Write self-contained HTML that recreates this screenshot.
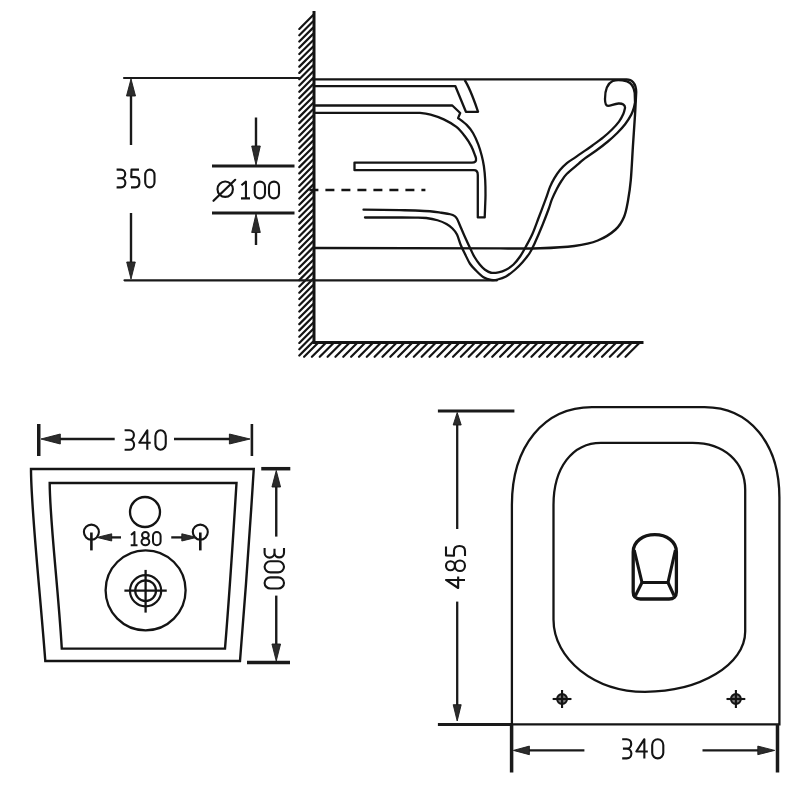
<!DOCTYPE html>
<html><head><meta charset="utf-8"><title>Wall hung toilet dimensions</title>
<style>html,body{margin:0;padding:0;background:#fff;width:800px;height:800px;overflow:hidden;font-family:"Liberation Sans",sans-serif;}svg{display:block;}</style>
</head><body>
<svg width="800" height="800" viewBox="0 0 800 800">
<path d="M299.3,355.5 L313.2,341.6 M299.3,349.22 L313.2,335.32 M299.3,342.94 L313.2,329.04 M299.3,336.66 L313.2,322.76 M299.3,330.38 L313.2,316.48 M299.3,324.1 L313.2,310.2 M299.3,317.82 L313.2,303.92 M299.3,311.54 L313.2,297.64 M299.3,305.26 L313.2,291.36 M299.3,298.98 L313.2,285.08 M299.3,292.7 L313.2,278.8 M299.3,286.42 L313.2,272.52 M299.3,280.14 L313.2,266.24 M299.3,273.86 L313.2,259.96 M299.3,267.58 L313.2,253.68 M299.3,261.3 L313.2,247.4 M299.3,255.02 L313.2,241.12 M299.3,248.74 L313.2,234.84 M299.3,242.46 L313.2,228.56 M299.3,236.18 L313.2,222.28 M299.3,229.9 L313.2,216 M299.3,223.62 L313.2,209.72 M299.3,217.34 L313.2,203.44 M299.3,211.06 L313.2,197.16 M299.3,204.78 L313.2,190.88 M299.3,198.5 L313.2,184.6 M299.3,192.22 L313.2,178.32 M299.3,185.94 L313.2,172.04 M299.3,179.66 L313.2,165.76 M299.3,173.38 L313.2,159.48 M299.3,167.1 L313.2,153.2 M299.3,160.82 L313.2,146.92 M299.3,154.54 L313.2,140.64 M299.3,148.26 L313.2,134.36 M299.3,141.98 L313.2,128.08 M299.3,135.7 L313.2,121.8 M299.3,129.42 L313.2,115.52 M299.3,123.14 L313.2,109.24 M299.3,116.86 L313.2,102.96 M299.3,110.58 L313.2,96.68 M299.3,104.3 L313.2,90.4 M299.3,98.02 L313.2,84.12 M299.3,91.74 L313.2,77.84 M299.3,85.46 L313.2,71.56 M299.3,79.18 L313.2,65.28 M299.3,72.9 L313.2,59 M299.3,66.62 L313.2,52.72 M299.3,60.34 L313.2,46.44 M299.3,54.06 L313.2,40.16 M299.3,47.78 L313.2,33.88 M299.3,41.5 L313.2,27.6 M299.3,35.22 L313.2,21.32 M299.3,28.94 L313.2,15.04" stroke="#141414" stroke-width="2.2" stroke-linecap="round" fill="none"/>
<path d="M304.1,356.8 L317.4,343.5 M311.94,356.8 L325.24,343.5 M319.78,356.8 L333.08,343.5 M327.62,356.8 L340.92,343.5 M335.46,356.8 L348.76,343.5 M343.3,356.8 L356.6,343.5 M351.14,356.8 L364.44,343.5 M358.98,356.8 L372.28,343.5 M366.82,356.8 L380.12,343.5 M374.66,356.8 L387.96,343.5 M382.5,356.8 L395.8,343.5 M390.34,356.8 L403.64,343.5 M398.18,356.8 L411.48,343.5 M406.02,356.8 L419.32,343.5 M413.86,356.8 L427.16,343.5 M421.7,356.8 L435,343.5 M429.54,356.8 L442.84,343.5 M437.38,356.8 L450.68,343.5 M445.22,356.8 L458.52,343.5 M453.06,356.8 L466.36,343.5 M460.9,356.8 L474.2,343.5 M468.74,356.8 L482.04,343.5 M476.58,356.8 L489.88,343.5 M484.42,356.8 L497.72,343.5 M492.26,356.8 L505.56,343.5 M500.1,356.8 L513.4,343.5 M507.94,356.8 L521.24,343.5 M515.78,356.8 L529.08,343.5 M523.62,356.8 L536.92,343.5 M531.46,356.8 L544.76,343.5 M539.3,356.8 L552.6,343.5 M547.14,356.8 L560.44,343.5 M554.98,356.8 L568.28,343.5 M562.82,356.8 L576.12,343.5 M570.66,356.8 L583.96,343.5 M578.5,356.8 L591.8,343.5 M586.34,356.8 L599.64,343.5 M594.18,356.8 L607.48,343.5 M602.02,356.8 L615.32,343.5 M609.86,356.8 L623.16,343.5 M617.7,356.8 L631,343.5 M625.54,356.8 L638.84,343.5" stroke="#141414" stroke-width="2.2" stroke-linecap="round" fill="none"/>
<path d="M314,11 L314,342.6 L643.5,342.6" fill="none" stroke="#141414" stroke-width="3" stroke-linejoin="miter"/>
<line x1="124" y1="78" x2="299" y2="78" stroke="#1a1a1a" stroke-width="2.2" stroke-linecap="round"/>
<line x1="124.5" y1="280.3" x2="497" y2="280.3" stroke="#1a1a1a" stroke-width="2.2" stroke-linecap="round"/>
<line x1="131" y1="92" x2="131" y2="145" stroke="#1a1a1a" stroke-width="2.4" />
<path d="M131,79 L126.5,96 L135.5,96 Z" fill="#2c2c2c" stroke="#1a1a1a" stroke-width="0.9" stroke-linejoin="round"/>
<line x1="131" y1="213" x2="131" y2="266" stroke="#1a1a1a" stroke-width="2.4" />
<path d="M131,279 L135.3,262 L126.7,262 Z" fill="#2c2c2c" stroke="#1a1a1a" stroke-width="0.9" stroke-linejoin="round"/>
<path d="M116.6,169.6 L120.9,169.6 C123.48,169.6 125.2,171.56 125.2,173.96 C125.2,176.36 123.48,178.32 120.9,178.32 L117.29,178.32 M120.9,178.32 C123.65,178.32 125.37,180.46 125.37,182.86 C125.37,185.26 123.65,187.4 120.9,187.4 L116.6,187.4" fill="none" stroke="#141414" stroke-width="2.1" stroke-linecap="butt" stroke-linejoin="round"/>
<path d="M138.98,169.6 L131.5,169.6 L131.25,177.08 L135.2,177.08 C137.89,177.08 139.4,179.21 139.4,182.24 C139.4,185.44 137.89,187.4 135.2,187.4 L131,187.4" fill="none" stroke="#141414" stroke-width="2.1" stroke-linecap="butt" stroke-linejoin="round"/>
<path d="M145.2,174.94 C145.2,171.99 147.28,169.6 149.85,169.6 C152.42,169.6 154.5,171.99 154.5,174.94 L154.5,182.06 C154.5,185.01 152.42,187.4 149.85,187.4 C147.28,187.4 145.2,185.01 145.2,182.06 Z" fill="none" stroke="#141414" stroke-width="2.1" stroke-linecap="butt" stroke-linejoin="round"/>
<line x1="212" y1="166" x2="294.5" y2="166" stroke="#1a1a1a" stroke-width="3" />
<line x1="212" y1="213" x2="294.5" y2="213" stroke="#1a1a1a" stroke-width="3" />
<line x1="256" y1="117.5" x2="256" y2="150" stroke="#1a1a1a" stroke-width="2.4" />
<path d="M256,165 L260.3,146 L251.7,146 Z" fill="#2c2c2c" stroke="#1a1a1a" stroke-width="0.9" stroke-linejoin="round"/>
<line x1="256" y1="228" x2="256" y2="245" stroke="#1a1a1a" stroke-width="2.4" />
<path d="M256,214 L251.7,232.5 L260.3,232.5 Z" fill="#2c2c2c" stroke="#1a1a1a" stroke-width="0.9" stroke-linejoin="round"/>
<circle cx="225.2" cy="189.2" r="7.7" fill="none" stroke="#141414" stroke-width="2.1"/>
<line x1="213.5" y1="200.8" x2="235.2" y2="179.8" stroke="#141414" stroke-width="2.2" stroke-linecap="round"/>
<path d="M241.45,185.3 L245.95,181.6 L245.95,198.4 M241,198.4 L250,198.4" fill="none" stroke="#141414" stroke-width="2.1" stroke-linecap="butt" stroke-linejoin="round"/>
<path d="M254.75,186.64 C254.75,183.86 257.04,181.6 259.88,181.6 C262.71,181.6 265,183.86 265,186.64 L265,193.36 C265,196.14 262.71,198.4 259.88,198.4 C257.04,198.4 254.75,196.14 254.75,193.36 Z" fill="none" stroke="#141414" stroke-width="2.1" stroke-linecap="butt" stroke-linejoin="round"/>
<path d="M269,186.64 C269,183.86 271.24,181.6 274,181.6 C276.76,181.6 279,183.86 279,186.64 L279,193.36 C279,196.14 276.76,198.4 274,198.4 C271.24,198.4 269,196.14 269,193.36 Z" fill="none" stroke="#141414" stroke-width="2.1" stroke-linecap="butt" stroke-linejoin="round"/>
<path d="M312,79.4 L626.5,79.4 C631.5,79.4 636,83 636.2,92 C636,95.83 635.53,106.17 635,115 C634.47,123.83 633.7,134.17 633,145 C632.3,155.83 631.63,170.73 630.8,180 C629.97,189.27 629.13,194.43 628,200.6 C626.87,206.77 626.07,212.18 624,217 C621.93,221.82 619.97,225.58 615.6,229.5 C611.23,233.42 604.67,237.75 597.8,240.5 C590.93,243.25 584.03,244.7 574.4,246 C564.77,247.3 552.4,247.9 540,248.3 C527.6,248.7 506.67,248.38 500,248.4 L314,248" fill="none" stroke="#141414" stroke-width="2.4" />
<path d="M314,86.2 L455.4,86.2 L465.9,111.8 L478.1,111.8 C474,100 470,88 464.6,80" fill="none" stroke="#141414" stroke-width="2.3" stroke-linejoin="round"/>
<path d="M314,105.5 L452.3,105.5 L460.2,113 L458.1,118.1 C459.57,119.27 464.42,122.62 466.9,125.1 C469.38,127.58 471.11,129.78 473,133 C474.89,136.22 476.79,140.61 478.25,144.4 C479.71,148.19 480.81,152.11 481.75,155.75 C482.69,159.39 483.32,162.21 483.9,166.25 C484.47,170.29 484.93,175.21 485.2,180 C485.47,184.79 485.52,190.5 485.5,195 C485.48,199.5 485.23,203.27 485.1,207 C484.97,210.73 484.77,215.67 484.7,217.4 L477.8,217.4 L477.8,175 C477.8,171.5 476.5,170.2 474,170.2 L354.5,170.2 L354.5,162.6 L472,162.6 C475,162.6 476.5,161.5 476,158.5 C475.87,158.04 475.99,157.82 475.2,155.75 C474.41,153.68 472.93,149.31 471.25,146.1 C469.57,142.89 467.58,139.7 465.1,136.5 C462.62,133.3 459.96,129.75 456.4,126.9 C452.84,124.05 448.05,121.45 443.75,119.4 C439.45,117.35 434.56,115.68 430.6,114.6 C426.64,113.52 423.43,113.18 420,112.9 C416.57,112.62 411.67,112.9 410,112.9 L314,112.9" fill="none" stroke="#141414" stroke-width="2.3" stroke-linejoin="round"/>
<line x1="309.4" y1="190" x2="425.4" y2="190" stroke="#141414" stroke-width="2.5" stroke-dasharray="9 7"/>
<path d="M363.5,209.7 C369.58,209.78 391.42,210.07 400,210.2 C408.58,210.33 410,210.32 415,210.5 C420,210.68 425.62,210.88 430,211.25 C434.38,211.62 437.88,212.25 441.25,212.75 C444.62,213.25 448,213.69 450.25,214.25 C452.5,214.81 453.62,215.35 454.75,216.1 C455.88,216.85 456.12,217.18 457,218.75 C457.88,220.32 458.75,222.62 460,225.5 C461.25,228.38 462.71,232 464.5,236 C466.29,240 469.08,246 470.75,249.5 C472.42,253 473,254.5 474.5,257 C476,259.5 478,262.38 479.75,264.5 C481.5,266.62 483.12,268.38 485,269.75 C486.88,271.12 488.75,272.31 491,272.75 C493.25,273.19 496,272.9 498.5,272.4 C501,271.9 503.5,271.07 506,269.75 C508.5,268.43 511.12,266.75 513.5,264.5 C515.88,262.25 518.25,259.12 520.25,256.25 C522.25,253.38 523.46,251 525.5,247.25 C527.54,243.5 530.29,238.71 532.5,233.75 C534.71,228.79 536.57,223.22 538.75,217.5 C540.93,211.78 543.73,204.5 545.6,199.4 C547.48,194.3 548.53,190.45 550,186.9 C551.47,183.35 552.73,180.92 554.4,178.1 C556.07,175.28 557.92,172.5 560,170 C562.08,167.5 564.4,165.17 566.9,163.1 C569.4,161.03 572.58,159.27 575,157.6 C577.42,155.93 578.44,155.16 581.4,153.1 C584.36,151.04 589.11,147.87 592.75,145.25 C596.39,142.63 600.04,140.03 603.25,137.4 C606.46,134.78 609.38,132.13 612,129.5 C614.62,126.87 617.1,124.22 619,121.6 C620.9,118.97 622.4,116.02 623.4,113.75 C624.4,111.48 624.73,108.96 625,108 C625.3,104.8 622.5,103.3 618.5,103.5 C614,103.8 611,105.8 608,105.8 C606,105.8 605,103 605,99 C605,90.5 607.5,83.5 613,80.8 C617,79.7 622,80.1 627,81.3 C631,82.8 634,86.5 634.7,93 L635,102" fill="none" stroke="#141414" stroke-width="2.3" stroke-linecap="round"/>
<path d="M365,217.5 C370.83,217.5 391.67,217.48 400,217.5 C408.33,217.52 410.62,217.52 415,217.6 C419.38,217.68 422.5,217.56 426.25,218 C430,218.44 434.12,219.25 437.5,220.25 C440.88,221.25 444,222.62 446.5,224 C449,225.38 450.75,226.75 452.5,228.5 C454.25,230.25 455.62,231.75 457,234.5 C458.38,237.25 459.42,241.75 460.75,245 C462.08,248.25 463.46,250.88 465,254 C466.54,257.12 468.17,261 470,263.75 C471.83,266.5 473.75,268.25 476,270.5 C478.25,272.75 481,275.68 483.5,277.25 C486,278.82 488.62,279.52 491,279.9 C493.38,280.27 495.25,280.07 497.75,279.5 C500.25,278.93 503.12,278.12 506,276.5 C508.88,274.88 512.25,272.12 515,269.75 C517.75,267.38 520,265.12 522.5,262.25 C525,259.38 527.92,255.79 530,252.5 C532.08,249.21 532.92,247.08 535,242.5 C537.08,237.92 540.21,230.62 542.5,225 C544.79,219.38 547.18,213.02 548.75,208.75 C550.32,204.48 550.54,202.73 551.9,199.4 C553.26,196.07 555.34,191.78 556.9,188.75 C558.46,185.72 559.58,183.75 561.25,181.25 C562.92,178.75 563.98,176.69 566.9,173.75 C569.82,170.81 575.75,166.16 578.75,163.6 C581.75,161.04 581.98,160.58 584.9,158.4 C587.82,156.22 592.47,153.28 596.25,150.5 C600.03,147.72 604.1,144.67 607.6,141.75 C611.1,138.83 614.33,135.92 617.25,133 C620.17,130.08 622.77,127.32 625.1,124.25 C627.43,121.18 629.78,117.38 631.25,114.6 C632.72,111.82 633.19,110.03 633.9,107.6 C634.61,105.17 635.23,101.27 635.5,100" fill="none" stroke="#141414" stroke-width="2.3" stroke-linecap="round"/>
<line x1="38.75" y1="424" x2="38.75" y2="456" stroke="#1a1a1a" stroke-width="3.5" />
<line x1="251.9" y1="424" x2="251.9" y2="456" stroke="#1a1a1a" stroke-width="2.6" />
<line x1="55" y1="439" x2="114.7" y2="439" stroke="#1a1a1a" stroke-width="2.4" />
<path d="M41,439 L60.3,444 L60.3,434 Z" fill="#2c2c2c" stroke="#1a1a1a" stroke-width="0.9" stroke-linejoin="round"/>
<line x1="174" y1="439" x2="235" y2="439" stroke="#1a1a1a" stroke-width="2.4" />
<path d="M250,439 L229.4,434 L229.4,444 Z" fill="#2c2c2c" stroke="#1a1a1a" stroke-width="0.9" stroke-linejoin="round"/>
<path d="M124.6,430.25 L129.25,430.25 C132.04,430.25 133.9,432.39 133.9,435.03 C133.9,437.66 132.04,439.81 129.25,439.81 L125.34,439.81 M129.25,439.81 C132.23,439.81 134.09,442.14 134.09,444.78 C134.09,447.41 132.23,449.75 129.25,449.75 L124.6,449.75" fill="none" stroke="#141414" stroke-width="2.1" stroke-linecap="butt" stroke-linejoin="round"/>
<path d="M147.3,449.75 L147.3,430.25 L139.25,442.73 L150.75,442.73" fill="none" stroke="#141414" stroke-width="2.1" stroke-linecap="butt" stroke-linejoin="round"/>
<path d="M155.4,436.1 C155.4,432.87 157.72,430.25 160.58,430.25 C163.43,430.25 165.75,432.87 165.75,436.1 L165.75,443.9 C165.75,447.13 163.43,449.75 160.58,449.75 C157.72,449.75 155.4,447.13 155.4,443.9 Z" fill="none" stroke="#141414" stroke-width="2.1" stroke-linecap="butt" stroke-linejoin="round"/>
<path d="M31,469 L253.75,469 C250,530 245,600 240,661 L45.3,661 C40,590 31,510 31,469 Z" fill="none" stroke="#141414" stroke-width="2.4" />
<path d="M49.7,483 L236.5,483 C233,540 229,600 225,648.6 L61.8,648.6 C58,585 49.7,520 49.7,483 Z" fill="none" stroke="#141414" stroke-width="2.4" />
<circle cx="145" cy="512" r="15" fill="none" stroke="#141414" stroke-width="2.3"/>
<circle cx="145.6" cy="590.3" r="40" fill="none" stroke="#141414" stroke-width="2.3"/>
<circle cx="145.6" cy="590.7" r="15.6" fill="none" stroke="#141414" stroke-width="2.2"/>
<circle cx="145.6" cy="590.7" r="10.4" fill="none" stroke="#141414" stroke-width="2.2"/>
<line x1="124.4" y1="590.7" x2="166.75" y2="590.7" stroke="#141414" stroke-width="2.3" />
<line x1="145.6" y1="569.9" x2="145.6" y2="612.6" stroke="#141414" stroke-width="2.3" />
<circle cx="91.4" cy="532.1" r="7.5" fill="none" stroke="#141414" stroke-width="2.1"/>
<line x1="91.4" y1="532.5" x2="91.4" y2="550.4" stroke="#141414" stroke-width="2.6" />
<circle cx="200.3" cy="532.1" r="7.5" fill="none" stroke="#141414" stroke-width="2.1"/>
<line x1="200.3" y1="532.5" x2="200.3" y2="550.4" stroke="#141414" stroke-width="2.6" />
<line x1="108" y1="537.4" x2="121" y2="537.4" stroke="#1a1a1a" stroke-width="2.3" />
<path d="M97,537.4 L111.7,541 L111.7,533.8 Z" fill="#2c2c2c" stroke="#1a1a1a" stroke-width="0.9" stroke-linejoin="round"/>
<line x1="171.25" y1="537.4" x2="184" y2="537.4" stroke="#1a1a1a" stroke-width="2.3" />
<path d="M196.5,537.4 L181.8,533.8 L181.8,541 Z" fill="#2c2c2c" stroke="#1a1a1a" stroke-width="0.9" stroke-linejoin="round"/>
<path d="M131.04,534.93 L134.44,532 L134.44,545.3 M130.7,545.3 L137.5,545.3" fill="none" stroke="#141414" stroke-width="2" stroke-linecap="butt" stroke-linejoin="round"/>
<path d="M142.05,535.13 C142.05,533.4 143.55,532 145.4,532 C147.25,532 148.75,533.4 148.75,535.13 C148.75,536.85 147.25,538.25 145.4,538.25 C143.55,538.25 142.05,536.85 142.05,535.13 Z M141.5,541.78 C141.5,539.83 143.25,538.25 145.4,538.25 C147.55,538.25 149.3,539.83 149.3,541.78 C149.3,543.72 147.55,545.3 145.4,545.3 C143.25,545.3 141.5,543.72 141.5,541.78 Z" fill="none" stroke="#141414" stroke-width="2" stroke-linecap="butt" stroke-linejoin="round"/>
<path d="M153,535.99 C153,533.79 154.7,532 156.8,532 C158.9,532 160.6,533.79 160.6,535.99 L160.6,541.31 C160.6,543.51 158.9,545.3 156.8,545.3 C154.7,545.3 153,543.51 153,541.31 Z" fill="none" stroke="#141414" stroke-width="2" stroke-linecap="butt" stroke-linejoin="round"/>
<line x1="261.25" y1="468.7" x2="290.3" y2="468.7" stroke="#1a1a1a" stroke-width="3.5" />
<line x1="247" y1="662.6" x2="290" y2="662.6" stroke="#1a1a1a" stroke-width="3.5" />
<line x1="276.25" y1="484" x2="276.25" y2="536.6" stroke="#1a1a1a" stroke-width="2.4" />
<path d="M276.25,470.5 L271.95,487 L280.55,487 Z" fill="#2c2c2c" stroke="#1a1a1a" stroke-width="0.9" stroke-linejoin="round"/>
<line x1="276.25" y1="595.6" x2="276.25" y2="647" stroke="#1a1a1a" stroke-width="2.4" />
<path d="M276.25,661 L280.55,644 L271.95,644 Z" fill="#2c2c2c" stroke="#1a1a1a" stroke-width="0.9" stroke-linejoin="round"/>
<path d="M284,548.1 L284,552.75 C284,555.54 281.87,557.4 279.25,557.4 C276.63,557.4 274.49,555.54 274.49,552.75 L274.49,548.84 M274.49,552.75 C274.49,555.73 272.17,557.59 269.55,557.59 C266.93,557.59 264.6,555.73 264.6,552.75 L264.6,548.1" fill="none" stroke="#141414" stroke-width="2.1" stroke-linecap="butt" stroke-linejoin="round"/>
<path d="M278.18,561.25 C281.39,561.25 284,563.75 284,566.83 C284,569.9 281.39,572.4 278.18,572.4 L270.42,572.4 C267.21,572.4 264.6,569.9 264.6,566.83 C264.6,563.75 267.21,561.25 270.42,561.25 Z" fill="none" stroke="#141414" stroke-width="2.1" stroke-linecap="butt" stroke-linejoin="round"/>
<path d="M278.18,577.4 C281.39,577.4 284,579.88 284,582.95 C284,586.02 281.39,588.5 278.18,588.5 L270.42,588.5 C267.21,588.5 264.6,586.02 264.6,582.95 C264.6,579.88 267.21,577.4 270.42,577.4 Z" fill="none" stroke="#141414" stroke-width="2.1" stroke-linecap="butt" stroke-linejoin="round"/>
<line x1="437.9" y1="411" x2="514.4" y2="411" stroke="#1a1a1a" stroke-width="3" />
<line x1="437.9" y1="724.4" x2="512" y2="724.4" stroke="#1a1a1a" stroke-width="3" />
<line x1="457.2" y1="422" x2="457.2" y2="529" stroke="#1a1a1a" stroke-width="2.3" />
<path d="M457.2,412.5 L453.2,425 L461.2,425 Z" fill="#2c2c2c" stroke="#1a1a1a" stroke-width="0.9" stroke-linejoin="round"/>
<line x1="457.2" y1="601.6" x2="457.2" y2="708" stroke="#1a1a1a" stroke-width="2.3" />
<path d="M457.2,721 L461.2,704.7 L453.2,704.7 Z" fill="#2c2c2c" stroke="#1a1a1a" stroke-width="0.9" stroke-linejoin="round"/>
<path d="M465,579.95 L446,579.95 L458.16,588 L458.16,576.5" fill="none" stroke="#141414" stroke-width="2.1" stroke-linecap="butt" stroke-linejoin="round"/>
<path d="M450.46,570.26 C448,570.26 446,568.24 446,565.75 C446,563.26 448,561.24 450.46,561.24 C452.93,561.24 454.93,563.26 454.93,565.75 C454.93,568.24 452.93,570.26 450.46,570.26 Z M459.96,571 C457.18,571 454.93,568.65 454.93,565.75 C454.93,562.85 457.18,560.5 459.96,560.5 C462.75,560.5 465,562.85 465,565.75 C465,568.65 462.75,571 459.96,571 Z" fill="none" stroke="#141414" stroke-width="2.1" stroke-linecap="butt" stroke-linejoin="round"/>
<path d="M446,546.5 L446,555.4 L453.98,555.7 L453.98,551 C453.98,547.8 456.26,546 459.49,546 C462.91,546 465,547.8 465,551 L465,556" fill="none" stroke="#141414" stroke-width="2.1" stroke-linecap="butt" stroke-linejoin="round"/>
<path d="M511.9,724.4 L511.9,505 C511.9,446.32 543.94,407.2 592,407.2 L704.5,407.2 C749.44,407.2 779.4,443.32 779.4,497.5 L779.4,724.4 Z" fill="none" stroke="#141414" stroke-width="2.3" />
<path d="M553.5,619.5 L553.5,505 C553.5,467.68 572.5,442.8 601,442.8 L692.5,442.8 C724.12,442.8 745.2,461.68 745.2,490 L745.2,631.5 C745.2,664.66 700.11,691.8 645,691.8 C594.67,691.8 553.5,659.26 553.5,619.5 Z" fill="none" stroke="#141414" stroke-width="2.3" />
<path d="M633.2,552 C633.2,541.5 643,534.6 654.8,534.6 C666.6,534.6 676.4,541.5 676.4,552 L676.4,592 C676.4,596.5 673.5,599 669,599 L640.5,599 C636,599 633.2,596.5 633.2,592 Z" fill="none" stroke="#141414" stroke-width="3.3" />
<path d="M634.2,550 L642,582.5 L668,582.5 L675.4,550" fill="none" stroke="#141414" stroke-width="3.1" stroke-linejoin="round"/>
<line x1="642" y1="582.5" x2="635.5" y2="595.5" stroke="#141414" stroke-width="3.1" />
<line x1="668" y1="582.5" x2="674" y2="595.5" stroke="#141414" stroke-width="3.1" />
<circle cx="562.06" cy="699" r="4.9" fill="#777" stroke="#141414" stroke-width="2.1"/>
<line x1="552.66" y1="699" x2="571.46" y2="699" stroke="#141414" stroke-width="2.1" />
<line x1="562.06" y1="690" x2="562.06" y2="708" stroke="#141414" stroke-width="2.1" />
<circle cx="735.9" cy="699" r="4.9" fill="#777" stroke="#141414" stroke-width="2.1"/>
<line x1="726.5" y1="699" x2="745.3" y2="699" stroke="#141414" stroke-width="2.1" />
<line x1="735.9" y1="690" x2="735.9" y2="708" stroke="#141414" stroke-width="2.1" />
<line x1="511.6" y1="724" x2="511.6" y2="772.5" stroke="#1a1a1a" stroke-width="3.5" />
<line x1="777.5" y1="724" x2="777.5" y2="772.5" stroke="#1a1a1a" stroke-width="3.5" />
<line x1="527" y1="750.4" x2="584.4" y2="750.4" stroke="#1a1a1a" stroke-width="2.3" />
<path d="M513.4,750.4 L529.4,754.7 L529.4,746.1 Z" fill="#2c2c2c" stroke="#1a1a1a" stroke-width="0.9" stroke-linejoin="round"/>
<line x1="702.5" y1="750.4" x2="760" y2="750.4" stroke="#1a1a1a" stroke-width="2.3" />
<path d="M774.7,750.4 L757.8,746.1 L757.8,754.7 Z" fill="#2c2c2c" stroke="#1a1a1a" stroke-width="0.9" stroke-linejoin="round"/>
<path d="M622.2,739.2 L626.7,739.2 C629.4,739.2 631.2,741.31 631.2,743.9 C631.2,746.5 629.4,748.61 626.7,748.61 L622.92,748.61 M626.7,748.61 C629.58,748.61 631.38,750.91 631.38,753.5 C631.38,756.1 629.58,758.4 626.7,758.4 L622.2,758.4" fill="none" stroke="#141414" stroke-width="2.1" stroke-linecap="butt" stroke-linejoin="round"/>
<path d="M644.35,758.4 L644.35,739.2 L636.3,751.49 L647.8,751.49" fill="none" stroke="#141414" stroke-width="2.1" stroke-linecap="butt" stroke-linejoin="round"/>
<path d="M652.2,744.96 C652.2,741.78 654.68,739.2 657.75,739.2 C660.82,739.2 663.3,741.78 663.3,744.96 L663.3,752.64 C663.3,755.82 660.82,758.4 657.75,758.4 C654.68,758.4 652.2,755.82 652.2,752.64 Z" fill="none" stroke="#141414" stroke-width="2.1" stroke-linecap="butt" stroke-linejoin="round"/>
</svg>
</body></html>
